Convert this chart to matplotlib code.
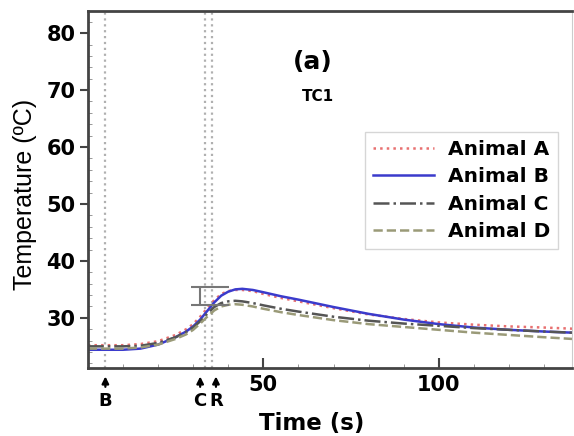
import matplotlib
matplotlib.use("Agg")
import matplotlib.pyplot as plt
from matplotlib.ticker import MultipleLocator

# time axis (s)
time_s = [0, 5, 10, 15, 20, 25, 28, 30, 32, 34, 36, 38, 40, 42, 44, 47, 50,
          55, 60, 70, 80, 90, 100, 110, 120, 130, 138]

animal_a = [25.2, 25.2, 25.2, 25.4, 25.9, 27.0, 28.0, 28.9, 30.2, 31.7, 33.1, 34.2, 34.7,
            34.9, 34.9, 34.7, 34.2, 33.5, 32.9, 31.7, 30.6, 29.8, 29.2, 28.8, 28.5, 28.3, 28.1]
animal_b = [24.4, 24.4, 24.4, 24.6, 25.3, 26.6, 27.6, 28.5, 29.7, 31.2, 32.7, 33.9, 34.6,
            35.0, 35.1, 34.9, 34.5, 33.8, 33.2, 31.9, 30.7, 29.7, 28.9, 28.3, 27.9, 27.6, 27.4]
animal_c = [25.0, 25.0, 25.0, 25.1, 25.6, 26.6, 27.5, 28.3, 29.4, 30.7, 31.9, 32.6, 32.9,
            33.0, 32.9, 32.6, 32.2, 31.6, 31.1, 30.2, 29.5, 29.0, 28.6, 28.2, 27.9, 27.6, 27.4]
animal_d = [24.6, 24.6, 24.6, 24.8, 25.3, 26.3, 27.1, 27.9, 29.0, 30.2, 31.3, 32.0, 32.3,
            32.4, 32.3, 32.0, 31.6, 31.0, 30.5, 29.6, 28.9, 28.4, 27.9, 27.4, 27.0, 26.6, 26.3]

# event markers: B, C, R
event_labels = ["B", "C", "R"]
event_times = [5.0, 33.5, 35.5]
arrow_times = [5.0, 32.0, 36.5]

# peak spread bar
err_x = 32.0
err_lo = 32.3
err_hi = 35.4
err_cap = (29.5, 40.3)

fig = plt.figure(figsize=(5.74, 4.36), dpi=100)
ax = fig.add_axes([0.153, 0.156, 0.844, 0.819])

ax.plot(time_s, animal_a, color="#e87070", ls=":", lw=1.8, label="Animal A")
ax.plot(time_s, animal_b, color="#3b3bcc", ls="-", lw=1.8, label="Animal B")
ax.plot(time_s, animal_c, color="#555555", ls="-.", lw=1.8, label="Animal C")
ax.plot(time_s, animal_d, color="#9a9a78", ls="--", lw=1.8, label="Animal D")

for t in event_times:
    ax.axvline(t, color="#b0b0b0", ls=":", lw=1.6, zorder=0)

ax.vlines(err_x, err_lo, err_hi, color="#777777", lw=1.5)
ax.hlines([err_lo, err_hi], err_cap[0], err_cap[1], color="#777777", lw=1.5)

ax.set_xlim(0, 138)
ax.set_ylim(21.2, 83.9)
ax.set_xticks([50, 100])
ax.set_yticks([30, 40, 50, 60, 70, 80])
ax.xaxis.set_minor_locator(MultipleLocator(10))
ax.yaxis.set_minor_locator(MultipleLocator(2))
ax.tick_params(axis="x", which="major", direction="in", length=7, width=1.5, colors="#444444",
               labelcolor="black", labelsize=15, pad=5)
ax.tick_params(axis="x", which="minor", direction="in", length=3, colors="#888888")
ax.tick_params(axis="y", which="major", direction="out", length=6, width=1.5, colors="#444444",
               labelcolor="black", labelsize=15, pad=3)
ax.tick_params(axis="y", which="minor", direction="in", length=3, colors="#888888")
for lab in ax.get_xticklabels() + ax.get_yticklabels():
    lab.set_fontweight("bold")

for side in ["left", "bottom", "top"]:
    ax.spines[side].set_color("#444444")
    ax.spines[side].set_linewidth(2)
ax.spines["right"].set_color("#cccccc")

ax.set_xlabel("Time (s)", fontsize=16.5, fontweight="bold")
ax.xaxis.set_label_coords(0.463, -0.122)
ax.set_ylabel("Temperature (ºC)", fontsize=18, family="Liberation Sans")
ax.yaxis.set_label_coords(-0.105, 0.487)

for lab, t in zip(event_labels, arrow_times):
    ax.annotate("", xy=(t, 20.2), xytext=(t, 17.4), xycoords="data",
                arrowprops=dict(arrowstyle="-|>", color="black", lw=1.6, mutation_scale=10),
                annotation_clip=False)
    ax.text(t, 17.0, lab, ha="center", va="top", fontsize=13, fontweight="bold",
            clip_on=False)

ax.text(0.465, 0.857, "(a)", transform=ax.transAxes, fontsize=18, fontweight="bold",
        ha="center", va="center")
ax.text(0.475, 0.759, "TC1", transform=ax.transAxes, fontsize=11, fontweight="bold",
        ha="center", va="center")

leg = ax.legend(loc="upper right", bbox_to_anchor=(0.971, 0.661), borderaxespad=0,
                prop={"weight": "bold", "size": 14.5}, frameon=True, fancybox=False,
                handlelength=3.0, handletextpad=0.7, labelspacing=0.42, borderpad=0.4)
leg.get_frame().set_edgecolor("#cccccc")
leg.get_frame().set_linewidth(1.0)

fig.savefig("out.png", dpi=100)
